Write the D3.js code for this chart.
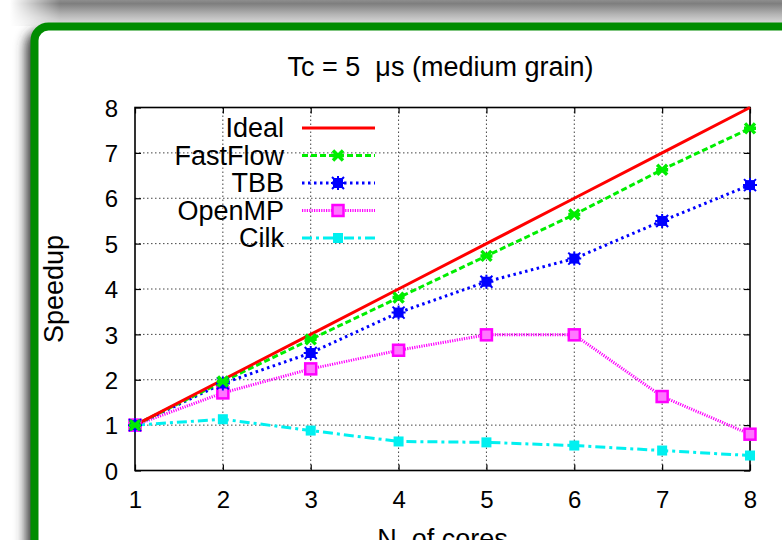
<!DOCTYPE html>
<html>
<head>
<meta charset="utf-8">
<script src="https://cdn.jsdelivr.net/npm/d3@7/dist/d3.min.js"></script>
<style>
html,body{margin:0;padding:0;background:#fff;overflow:hidden;}
svg{display:block;font-family:"Liberation Sans",Arial,Helvetica,sans-serif;}
</style>
</head>
<body>
<svg id="chart" width="782" height="540"></svg>
<script>
const cores = [1, 2, 3, 4, 5, 6, 7, 8];
const ideal = [1, 2, 3, 4, 5, 6, 7, 8];
const fastflow = [1, 1.96, 2.89, 3.81, 4.73, 5.64, 6.63, 7.54];
const tbb = [1, 1.92, 2.59, 3.48, 4.16, 4.67, 5.50, 6.29];
const openmp = [1, 1.71, 2.24, 2.65, 2.99, 2.99, 1.63, 0.80];
const cilk = [1, 1.13, 0.88, 0.64, 0.62, 0.55, 0.44, 0.33];
const xTicks = [1, 2, 3, 4, 5, 6, 7, 8];
const yTicks = [0, 1, 2, 3, 4, 5, 6, 7, 8];
const seriesNames = ["Ideal", "FastFlow", "TBB", "OpenMP", "Cilk"];
const titleText = "Tc = 5\u00a0\u00a0\u03bcs (medium grain)";
const xLabel = "N. of cores";
const yLabel = "Speedup";

const svg = d3.select("#chart");
const defs = svg.append("defs");
const f2 = defs.append("filter").attr("id","blur2").attr("x","-50%").attr("y","-50%").attr("width","200%").attr("height","200%");
f2.append("feGaussianBlur").attr("stdDeviation", 6);
const grad = defs.append("linearGradient").attr("id","topg").attr("gradientUnits","userSpaceOnUse")
  .attr("x1",0).attr("y1",0).attr("x2",0).attr("y2",24);
grad.append("stop").attr("offset",0).attr("stop-color","#8e8e8e");
grad.append("stop").attr("offset",0.15).attr("stop-color","#7e7e7e");
grad.append("stop").attr("offset",0.6).attr("stop-color","#b4b4b4");
grad.append("stop").attr("offset",1).attr("stop-color","#dcdcdc");
const hg = defs.append("linearGradient").attr("id","hfade").attr("gradientUnits","userSpaceOnUse")
  .attr("x1",10).attr("y1",0).attr("x2",60).attr("y2",0);
hg.append("stop").attr("offset",0).attr("stop-color","#000");
hg.append("stop").attr("offset",1).attr("stop-color","#fff");
defs.append("mask").attr("id","topmask").append("rect")
  .attr("x",0).attr("y",0).attr("width",782).attr("height",30).attr("fill","url(#hfade)");

// background shadows
svg.append("rect").attr("x",26).attr("y",30).attr("width",820).attr("height",600).attr("rx",16).attr("fill","#333").attr("filter","url(#blur2)");
svg.append("rect").attr("x",0).attr("y",0).attr("width",782).attr("height",26).attr("fill","url(#topg)").attr("mask","url(#topmask)");

// green rounded box
svg.append("rect").attr("x",34.5).attr("y",26.5).attr("width",800).attr("height",600).attr("rx",14)
  .attr("fill","#fff").attr("stroke","#008c00").attr("stroke-width",8);

const L = 135, R = 750, T = 107.5, B = 470.5;
const x = d3.scaleLinear().domain([1, 8]).range([L, R]);
const y = d3.scaleLinear().domain([0, 8]).range([B, T]);

const g = svg.append("g");

// grid
g.append("g").selectAll("line").data(xTicks.slice(1, -1)).join("line")
  .attr("x1", d => x(d)).attr("x2", d => x(d)).attr("y1", T).attr("y2", B)
  .attr("stroke", "#444").attr("stroke-width", 1).attr("stroke-dasharray", "1.5,2.5");
g.append("g").selectAll("line").data(yTicks.slice(1, -1)).join("line")
  .attr("x1", L).attr("x2", R).attr("y1", d => y(d)).attr("y2", d => y(d))
  .attr("stroke", "#444").attr("stroke-width", 1).attr("stroke-dasharray", "1.5,2.5");

// axes with D3
const fs = 24;
const xAxis = g.append("g").attr("transform", `translate(0,${B})`)
  .call(d3.axisBottom(x).tickValues(xTicks).tickFormat(d3.format("d")).tickSizeInner(-6).tickSizeOuter(0).tickPadding(20));
const xAxisTop = g.append("g").attr("transform", `translate(0,${T})`)
  .call(d3.axisTop(x).tickValues(xTicks).tickFormat("").tickSizeInner(-6).tickSizeOuter(0));
const yAxis = g.append("g").attr("transform", `translate(${L},0)`)
  .call(d3.axisLeft(y).tickValues(yTicks).tickFormat(d3.format("d")).tickSizeInner(-6).tickSizeOuter(0).tickPadding(17));
const yAxisR = g.append("g").attr("transform", `translate(${R},0)`)
  .call(d3.axisRight(y).tickValues(yTicks).tickFormat("").tickSizeInner(-6).tickSizeOuter(0));
[xAxis, xAxisTop, yAxis, yAxisR].forEach(a => {
  a.select(".domain").remove();
  a.selectAll("line").attr("stroke", "#000").attr("stroke-width", 1.2);
  a.selectAll("text").attr("font-size", fs).attr("fill", "#000").attr("font-family", "Liberation Sans, Arial, sans-serif");
});
xAxis.selectAll("text").attr("dy", "0.71em");
yAxis.selectAll("text").attr("dy", "0.36em");

// frame
g.append("rect").attr("x", L).attr("y", T).attr("width", R - L).attr("height", B - T)
  .attr("fill", "none").attr("stroke", "#000").attr("stroke-width", 1.6);

const series = [
  {name: seriesNames[0], vals: ideal, color: "#ff0000", dash: null, marker: "none"},
  {name: seriesNames[1], vals: fastflow, color: "#00ee00", dash: "6,3", marker: "x"},
  {name: seriesNames[2], vals: tbb, color: "#0000ff", dash: "2.5,3.5", marker: "star"},
  {name: seriesNames[3], vals: openmp, color: "#ff00ff", dash: "1.2,1.2", marker: "open"},
  {name: seriesNames[4], vals: cilk, color: "#00f0f0", dash: "10,4,3,4", marker: "fill"}
];

const line = d3.line().x((d, i) => x(cores[i])).y(d => y(d));

function drawMarker(sel, cx, cy, s) {
  const m = sel.append("g").attr("transform", `translate(${cx},${cy})`);
  if (s.marker === "x") {
    m.append("path").attr("d", "M-5,-5L5,5M-5,5L5,-5M-6,0L6,0").attr("stroke", s.color).attr("stroke-width", 3.5);
  } else if (s.marker === "star") {
    m.append("rect").attr("x", -5).attr("y", -5).attr("width", 10).attr("height", 10).attr("fill", s.color);
    m.append("path").attr("d", "M-6,-6L6,6M-6,6L6,-6M-7,0L7,0M0,-7L0,7").attr("stroke", s.color).attr("stroke-width", 2);
  } else if (s.marker === "open") {
    m.append("rect").attr("x", -5.5).attr("y", -5.5).attr("width", 11).attr("height", 11)
      .attr("fill", "#ff77ff").attr("stroke", s.color).attr("stroke-width", 2.5);
  } else if (s.marker === "fill") {
    m.append("rect").attr("x", -5).attr("y", -5).attr("width", 10).attr("height", 10).attr("fill", s.color);
  }
}

const plot = g.append("g");
series.slice().reverse().forEach(s => {
  plot.append("path").datum(s.vals).attr("d", line).attr("fill", "none")
    .attr("stroke", s.color).attr("stroke-width", 3).attr("stroke-dasharray", s.dash);
});
series.slice().reverse().forEach(s => {
  s.vals.forEach((v, i) => drawMarker(plot, x(cores[i]), y(v), s));
});

// legend
const lg = g.append("g");
series.forEach((s, i) => {
  const cy = 128 + i * 27.5;
  lg.append("text").attr("x", 284).attr("y", cy + 9).attr("text-anchor", "end")
    .attr("font-size", 27).attr("fill", "#000").text(s.name);
  lg.append("line").attr("x1", 302).attr("x2", 375).attr("y1", cy).attr("y2", cy)
    .attr("stroke", s.color).attr("stroke-width", 3).attr("stroke-dasharray", s.dash);
  drawMarker(lg, 338, cy, s);
});

// title and labels
svg.append("text").attr("x", (L + R) / 2 - 2).attr("y", 76).attr("text-anchor", "middle")
  .attr("font-size", 27).attr("fill", "#000").text(titleText);
svg.append("text").attr("transform", `translate(63,289) rotate(-90)`).attr("text-anchor", "middle")
  .attr("font-size", 27).attr("fill", "#000").text(yLabel);
svg.append("text").attr("x", (L + R) / 2).attr("y", 548).attr("text-anchor", "middle")
  .attr("font-size", 27).attr("fill", "#000").text(xLabel);
</script>
</body>
</html>
